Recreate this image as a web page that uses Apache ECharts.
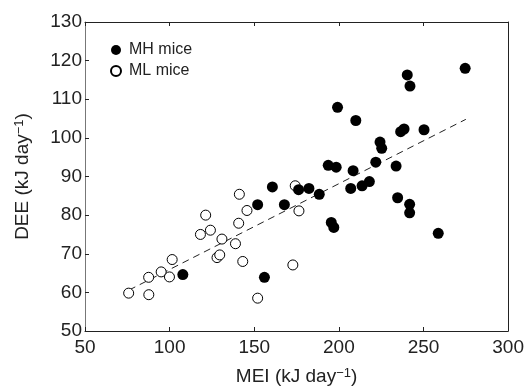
<!DOCTYPE html>
<html>
<head>
<meta charset="utf-8">
<script src="https://cdn.jsdelivr.net/npm/echarts@6/dist/echarts.min.js"></script>
<style>html,body{margin:0;padding:0;background:#fff}#c{width:527px;height:391px}</style>
</head>
<body>
<div id="c"></div>
<script>
// MH mice (filled)
var mhMEI = [274.6,240.4,242.0,199.2,210.0,236.5,238.5,250.3,224.3,225.3,221.8,193.7,198.4,233.8,208.4,218.0,213.7,207.0,182.3,188.4,176.2,167.8,234.7,241.8,241.8,195.5,197.0,258.7,152.0,160.7,107.8,156.0];
var mhDEE = [118.0,116.3,113.4,107.9,104.5,101.6,102.3,102.1,98.9,97.3,93.7,92.9,92.4,92.7,91.5,88.7,87.6,86.9,86.9,85.4,86.6,82.7,84.5,82.8,80.6,78.1,76.8,75.3,82.7,87.3,64.6,63.9];
// ML mice (open)
var mlMEI = [75.8,87.6,87.7,95.0,99.9,101.5,118.2,121.3,124.1,130.9,128.0,129.6,138.9,140.8,141.2,145.7,143.2,152.0,172.8,174.2,176.4];
var mlDEE = [59.8,63.9,59.4,65.3,64.0,68.5,75.0,80.0,76.1,73.8,69.0,69.7,72.6,77.9,85.4,81.2,68.0,58.5,67.1,87.6,81.1];
// regression line
var fitMEI = [76, 275];
var fitDEE = [60.6, 104.8];
var xTicks = [50,100,150,200,250,300];
var yTicks = [50,60,70,80,90,100,110,120,130];

function pairs(a,b){return a.map(function(v,i){return [v,b[i]];});}
var font = 'Liberation Sans, Arial, sans-serif';
var chart = echarts.init(document.getElementById('c'));
var axisCommon = {
  axisLine:{show:true,onZero:false,lineStyle:{color:'#222',width:1}},
  axisTick:{show:true,inside:true,length:4,lineStyle:{color:'#222'}},
  splitLine:{show:false}
};
chart.setOption({
  animation:false,
  backgroundColor:'#fff',
  textStyle:{fontFamily:font},
  grid:{left:85,right:18,top:22,bottom:58,containLabel:false},
  legend:{
    orient:'vertical',left:105,top:37,itemGap:5,itemWidth:10,itemHeight:10,
    data:[{name:'MH mice',icon:'circle'},{name:'ML mice',icon:'circle'}],
    textStyle:{fontFamily:font,fontSize:16,color:'#222',padding:[0,0,0,3]}
  },
  xAxis:[
    Object.assign({type:'value',min:xTicks[0],max:xTicks[xTicks.length-1],interval:50,position:'bottom',
      name:'MEI (kJ day{s|−1})',nameLocation:'middle',nameGap:36,
      nameTextStyle:{fontFamily:font,fontSize:19,color:'#222',rich:{s:{fontSize:13,verticalAlign:'top',padding:[0,0,6,0],color:'#222',fontFamily:font}}},
      axisLabel:{fontFamily:font,fontSize:19,color:'#222',margin:7}},axisCommon),
    Object.assign({type:'value',min:50,max:300,interval:50,position:'top',axisLabel:{show:false}},axisCommon)
  ],
  yAxis:[
    Object.assign({type:'value',min:yTicks[0],max:yTicks[yTicks.length-1],interval:10,position:'left',
      name:'DEE (kJ day{s|−1})',nameLocation:'middle',nameGap:53,
      nameTextStyle:{fontFamily:font,fontSize:19,color:'#222',rich:{s:{fontSize:13,verticalAlign:'top',padding:[0,0,6,0],color:'#222',fontFamily:font}}},
      axisLabel:{fontFamily:font,fontSize:19,color:'#222',margin:3}},axisCommon,
      {axisLine:{show:true,onZero:false,lineStyle:{color:'#777',width:1}}}),
    Object.assign({type:'value',min:50,max:130,interval:10,position:'right',axisLabel:{show:false}},axisCommon,{axisTick:{show:false}})
  ],
  series:[
    {type:'line',data:pairs(fitMEI,fitDEE),symbol:'none',silent:true,z:1,
     lineStyle:{color:'#222',width:1,type:[7,5]}},
    {name:'ML mice',type:'scatter',data:pairs(mlMEI,mlDEE),symbol:'circle',symbolSize:10,z:2,
     itemStyle:{color:'#fff',borderColor:'#000',borderWidth:1,opacity:1}},
    {name:'MH mice',type:'scatter',data:pairs(mhMEI,mhDEE),symbol:'circle',symbolSize:11,z:3,
     itemStyle:{color:'#000',borderColor:'#000',borderWidth:0,opacity:1}}
  ]
});
</script>
</body>
</html>
